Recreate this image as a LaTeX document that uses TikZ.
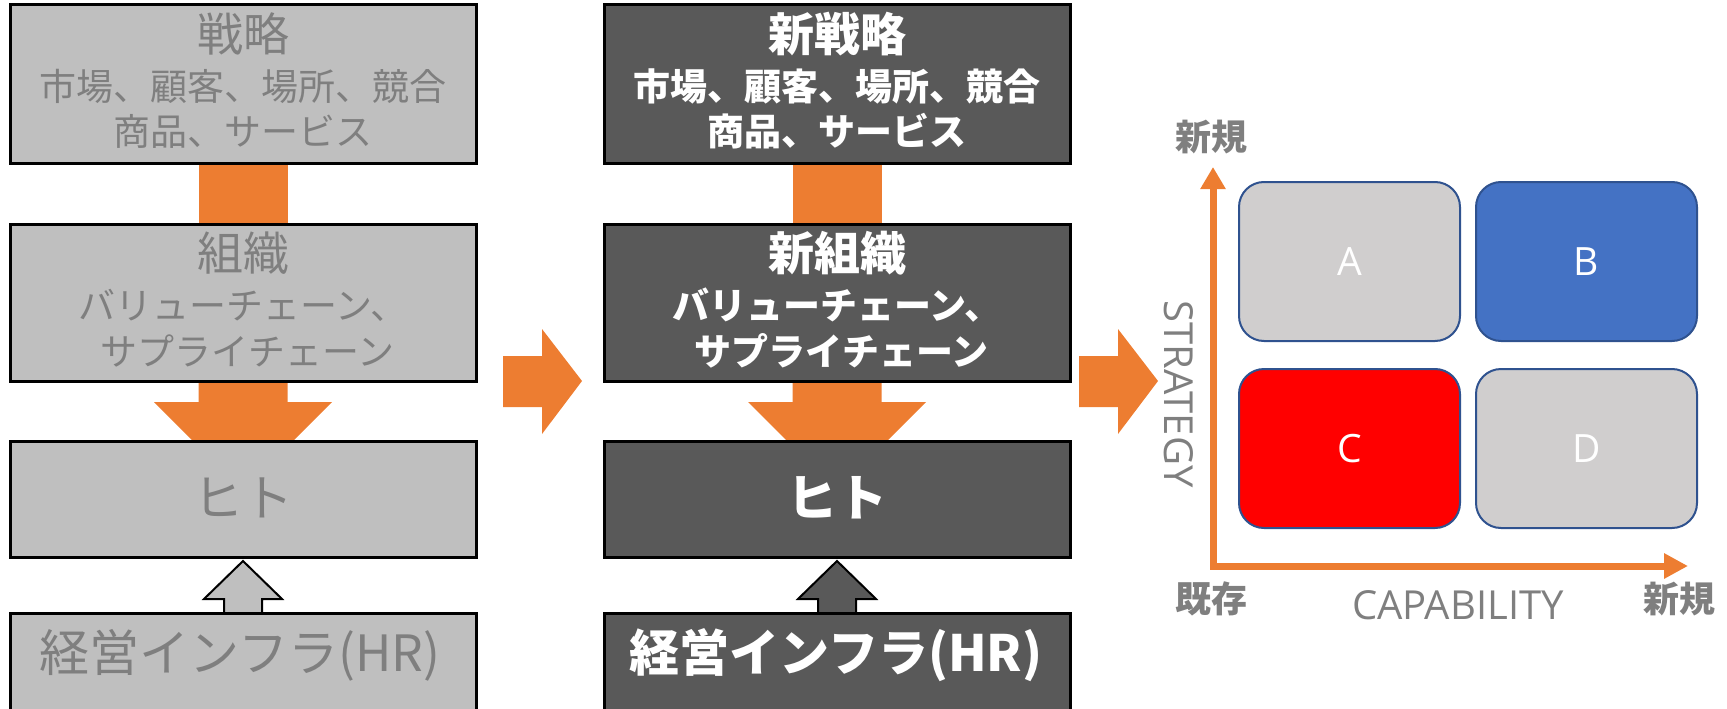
\documentclass[tikz,border=0pt]{standalone}
\usepackage{fontspec}
\newfontfamily\jp{Noto Sans CJK JP}
\newfontfamily\lat{Open Sans}
\usetikzlibrary{calc,arrows.meta}
\definecolor{lgray}{HTML}{BFBFBF}
\definecolor{dgray}{HTML}{595959}
\definecolor{tgray}{HTML}{7F7F7F}
\definecolor{orng}{HTML}{ED7D31}
\definecolor{qgray}{HTML}{D0CECE}
\definecolor{qblue}{HTML}{4472C4}
\definecolor{qred}{HTML}{FF0000}
\definecolor{qedge}{HTML}{2F528F}
\pgfdeclarelayer{bg}
\pgfsetlayers{bg,main}
\newcommand\fsT{\fontsize{46pt}{50pt}\selectfont}
\newcommand\fsB{\fontsize{37pt}{42pt}\selectfont}
\newcommand\fsH{\fontsize{50pt}{54pt}\selectfont}
\newcommand\fsA{\fontsize{36pt}{40pt}\selectfont}
\newcommand\fsL{\fontsize{39pt}{42pt}\selectfont}
\newcommand\fsC{\fontsize{40pt}{44pt}\selectfont}
\begin{document}
\begin{tikzpicture}[x=1pt,y=-1pt,
  box/.style={draw=black, line width=3pt, rectangle, inner sep=0pt, outer sep=0pt, anchor=north west, minimum width=466pt},
  lbox/.style={box, fill=lgray},
  dbox/.style={box, fill=dgray},
  ltxt/.style={text=tgray, inner sep=0pt},
  dtxt/.style={text=white, inner sep=0pt},
  quad/.style={draw=qedge, line width=2pt, rounded corners=25pt, anchor=north west, minimum width=221pt, minimum height=159pt, inner sep=0pt, outer sep=0pt, text=white, font=\lat\fsL},
  axlab/.style={text=tgray, inner sep=0pt, font=\jp\bfseries\fsA},
  cnnct/.style={fill=orng},
  uparr/.style={draw=black, line width=2pt}
]
\useasboundingbox (0,0) rectangle (1727,709);
\clip (0,0) rectangle (1727,709);

% ---------- left column ----------
\node[lbox, minimum height=158pt] (l1) at (10,5) {};
\node[lbox, minimum height=157pt] (l2) at (10,224) {};
\node[lbox, minimum height=116pt] (l3) at (10,441) {};
\node[lbox, minimum height=130pt] (l4) at (10,613) {};
\node[ltxt, font=\jp\fsT] (l1a) at (243,34) {戦略};
\node[ltxt, font=\jp\fsB] (l1b) at (243,86) {市場、顧客、場所、競合};
\node[ltxt, font=\jp\fsB] (l1c) at (243,131) {商品、サービス};
\node[ltxt, font=\jp\fsT] (l2a) at (243,253) {組織};
\node[ltxt, font=\jp\fsB] (l2b) at (243,305) {バリューチェーン、};
\node[ltxt, font=\jp\fsB] (l2c) at (243,351) {\ サプライチェーン};
\node[ltxt, font=\jp\fsH] (l3a) at (243,498) {ヒト};
\node[ltxt, font=\jp\fsH] (l4a) at (240,655) {経営インフラ(HR)};

% ---------- middle column ----------
\node[dbox, minimum height=158pt] (m1) at (604,5) {};
\node[dbox, minimum height=157pt] (m2) at (604,224) {};
\node[dbox, minimum height=116pt] (m3) at (604,441) {};
\node[dbox, minimum height=130pt] (m4) at (604,613) {};
\node[dtxt, font=\jp\bfseries\fsT] (m1a) at (837,34) {新戦略};
\node[dtxt, font=\jp\bfseries\fsB] (m1b) at (837,86) {市場、顧客、場所、競合};
\node[dtxt, font=\jp\bfseries\fsB] (m1c) at (837,131) {商品、サービス};
\node[dtxt, font=\jp\bfseries\fsT] (m2a) at (837,253) {新組織};
\node[dtxt, font=\jp\bfseries\fsB] (m2b) at (837,305) {バリューチェーン、};
\node[dtxt, font=\jp\bfseries\fsB] (m2c) at (837,351) {\ サプライチェーン};
\node[dtxt, font=\jp\bfseries\fsH] (m3a) at (837,498) {ヒト};
\node[dtxt, font=\jp\bfseries\fsH] (m4a) at (836,655) {経営インフラ(HR)};

% ---------- connectors (behind boxes) ----------
\begin{pgfonlayer}{bg}
\foreach \a/\b/\c/\d/\f in {l1/l2/l3/l4/lgray, m1/m2/m3/m4/dgray}{
  \fill[cnnct] ($(\a.south)+(-44.5,0)$) rectangle ($(\b.north)+(44.5,0)$);
  \fill[cnnct] ($(\b.south)+(-44.5,0)$) -- ($(\b.south)+(-44.5,21)$) -- ($(\b.south)+(-89,21)$)
     -- ($(\c.north)+(0,50)$) -- ($(\b.south)+(89,21)$) -- ($(\b.south)+(44.5,21)$)
     -- ($(\b.south)+(44.5,0)$) -- cycle;
  \filldraw[uparr, fill=\f] ($(\d.north)+(-19,6)$) -- ($(\d.north)+(-19,-14)$) -- ($(\d.north)+(-39,-14)$)
     -- ($(\c.south)+(0,4)$) -- ($(\d.north)+(39,-14)$) -- ($(\d.north)+(19,-14)$)
     -- ($(\d.north)+(19,6)$) -- cycle;
}
\end{pgfonlayer}

% ---------- big transition arrows ----------
\coordinate (t1) at (503,356);
\coordinate (t2) at (1079,356);
\foreach \t in {t1,t2}{
  \fill[cnnct] (\t) -- ($(\t)+(39,0)$) -- ($(\t)+(39,-27)$) -- ($(\t)+(79,25)$)
    -- ($(\t)+(39,78)$) -- ($(\t)+(39,51)$) -- ($(\t)+(0,51)$) -- cycle;
}

% ---------- matrix ----------
\node[quad, fill=qgray] (qa) at (1239,182) {A};
\node[quad, fill=qblue] (qb) at (1476,182) {B};
\node[quad, fill=qred]  (qc) at (1239,369) {C};
\node[quad, fill=qgray] (qd) at (1476,369) {D};

\coordinate (ytop) at (1213,167);
\coordinate (corner) at (1213,566);
\coordinate (xend) at (1688,566);
\draw[orng, line width=7pt, {Triangle[length=22pt,width=24pt]}-{Triangle[length=24pt,width=24pt]}]
  (ytop) -- (corner) -- (xend);

\node[axlab] (yn) at (1211,137) {新規};
\node[axlab] (ex) at (1211,599) {既存};
\node[axlab] (xn) at (1679,599) {新規};
\node[text=tgray, inner sep=0pt, font=\lat\fsC] (cap) at (1458,605) {CAPABILITY};
\node[text=tgray, inner sep=0pt, font=\lat\fsC, rotate=-90] (str) at (1179,394) {STRATEGY};
\end{tikzpicture}
\end{document}
